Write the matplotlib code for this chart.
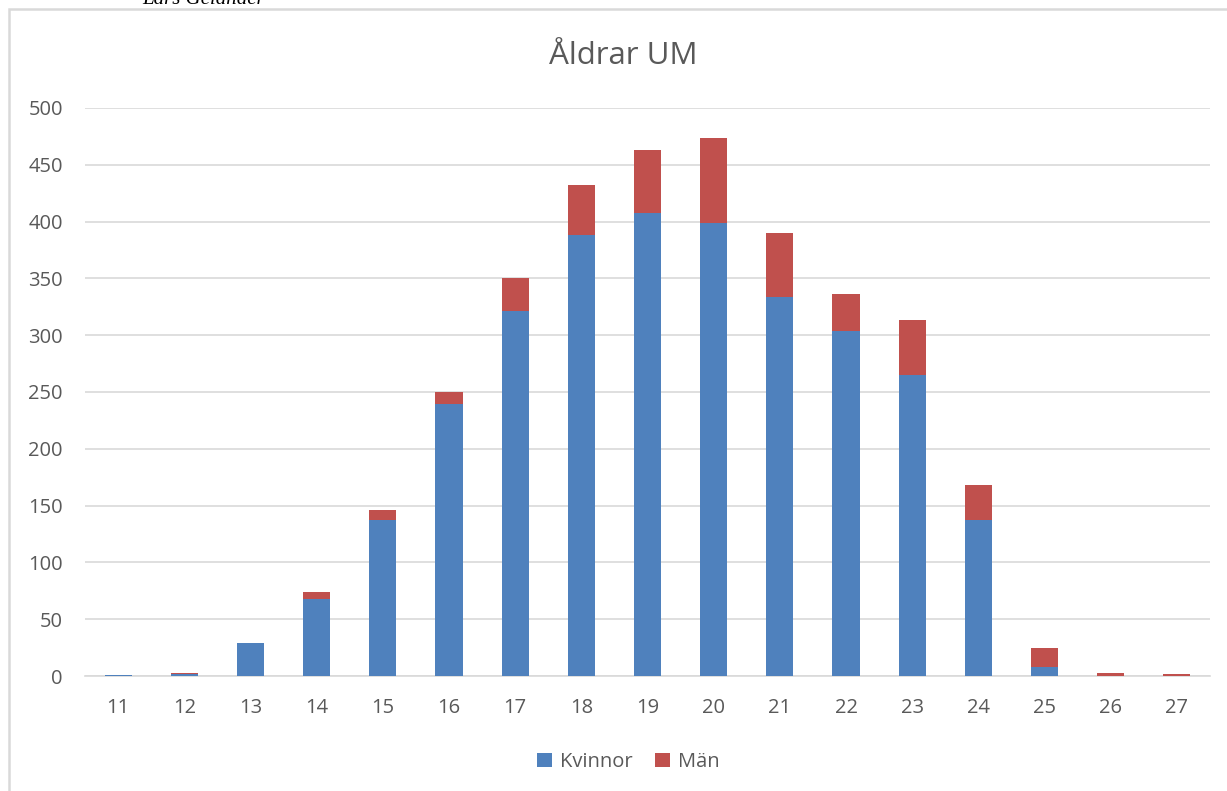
import matplotlib.pyplot as plt
from matplotlib.patches import Rectangle

plt.rcParams['font.family'] = ['Open Sans', 'DejaVu Sans']

alder = [11, 12, 13, 14, 15, 16, 17, 18, 19, 20, 21, 22, 23, 24, 25, 26, 27]
kvinnor = [1, 2, 29, 68, 137, 239, 321, 388, 408, 399, 334, 304, 265, 137, 8, 0, 0]
man = [0, 1, 0, 6, 9, 11, 29, 44, 55, 75, 56, 32, 48, 31, 17, 3, 2]

blue = '#4F81BD'
red = '#C0504D'
grey_text = '#595959'
grid_col = '#D9D9D9'

fig = plt.figure(figsize=(12.27, 7.91), dpi=100)
ax = fig.add_axes([85 / 1227, 1 - 676 / 791, 1125 / 1227, 568 / 791])

x = list(range(len(alder)))
ax.bar(x, kvinnor, width=0.41, color=blue, label='Kvinnor', zorder=3)
ax.bar(x, man, width=0.41, bottom=kvinnor, color=red, label='Män', zorder=3)

ax.set_xlim(-0.5, len(alder) - 0.5)
ax.set_ylim(0, 500)
ax.set_yticks(range(0, 501, 50))
ax.set_xticks(x)
ax.set_xticklabels([str(a) for a in alder])
ax.grid(axis='y', color=grid_col, linewidth=1.2, zorder=0)
ax.set_axisbelow(True)
for s in ['top', 'right', 'left']:
    ax.spines[s].set_visible(False)
ax.spines['bottom'].set_color(grid_col)
ax.spines['bottom'].set_linewidth(1.2)
ax.tick_params(axis='both', length=0, labelsize=14.5, labelcolor=grey_text)
ax.tick_params(axis='x', pad=16)
ax.tick_params(axis='y', pad=16)

fig.text(623 / 1227, 1 - 56 / 791, 'Åldrar UM', ha='center', va='center',
         fontsize=22.5, color=grey_text)

fig.legend(loc='center', bbox_to_anchor=(628 / 1227, 1 - 762 / 791), ncol=2,
           frameon=False, fontsize=14.5, handlelength=0.75, handleheight=0.75,
           handletextpad=0.4, columnspacing=1.1, labelcolor=grey_text)

# chart frame, running off the right and bottom edges
fig.patches.append(Rectangle((9 / 1227, -0.05), 1.1, 1 - 9 / 791 + 0.05,
                             transform=fig.transFigure, fill=False,
                             edgecolor=grid_col, linewidth=1.8))

fig.text(142 / 1227, 1 - 4 / 791, 'Lars Gelander', ha='left', va='baseline',
         fontsize=15, style='italic', family='Liberation Serif', color='black')

fig.savefig('out.png', dpi=100)
